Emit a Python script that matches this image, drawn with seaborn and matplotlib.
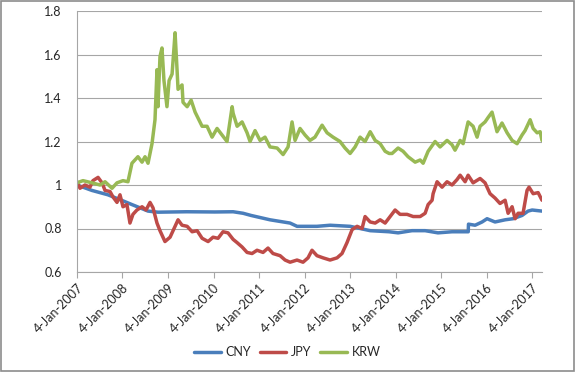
import matplotlib
matplotlib.use("Agg")
import matplotlib.pyplot as plt
from matplotlib.ticker import FuncFormatter
import pandas as pd
import seaborn as sns

# ---------------- data ----------------
cny_dates = ["2007-01-04", "2007-05-04", "2007-09-09", "2007-12-27", "2008-03-20",
             "2008-05-24", "2008-07-27", "2008-10-15", "2009-06-01", "2010-01-15",
             "2010-06-10", "2010-08-29", "2010-11-01", "2011-04-02", "2011-09-10",
             "2011-11-05", "2012-04-13", "2012-07-27", "2013-01-04", "2013-06-14",
             "2013-11-13", "2014-01-24", "2014-05-16", "2014-08-29", "2014-12-10",
             "2015-04-02", "2015-08-01", "2015-08-10", "2015-08-12", "2015-10-04",
             "2015-11-29", "2016-01-08", "2016-03-12", "2016-06-01", "2016-08-04",
             "2016-10-15", "2016-12-02", "2017-01-04", "2017-03-24"]
cny_vals = [1.00, 0.975, 0.955, 0.93, 0.91,
            0.895, 0.88, 0.875, 0.877, 0.876,
            0.877, 0.87, 0.86, 0.84, 0.825,
            0.81, 0.81, 0.815, 0.81, 0.79,
            0.785, 0.78, 0.79, 0.79, 0.78,
            0.785, 0.785, 0.785, 0.82, 0.815,
            0.83, 0.845, 0.83, 0.84, 0.845,
            0.86, 0.88, 0.885, 0.88]

jpy_dates = ["2007-01-04", "2007-01-28", "2007-03-09", "2007-04-18", "2007-05-12",
             "2007-06-22", "2007-07-24", "2007-08-17", "2007-09-26", "2007-10-20",
             "2007-11-21", "2007-12-15", "2008-01-08", "2008-02-09", "2008-03-04",
             "2008-03-28", "2008-04-29", "2008-06-09", "2008-07-11", "2008-08-12",
             "2008-09-05", "2008-10-07", "2008-10-31", "2008-12-10", "2009-01-20",
             "2009-03-01", "2009-03-25", "2009-04-26", "2009-06-06", "2009-07-16",
             "2009-08-25", "2009-10-04", "2009-11-21", "2009-12-31", "2010-02-09",
             "2010-03-21", "2010-04-30", "2010-06-10", "2010-07-12", "2010-08-21",
             "2010-09-30", "2010-11-09", "2010-12-19", "2011-02-05", "2011-03-17",
             "2011-04-26", "2011-06-22", "2011-08-01", "2011-09-10", "2011-11-05",
             "2011-12-23", "2012-02-01", "2012-03-04", "2012-04-13", "2012-06-01",
             "2012-07-27", "2012-09-21", "2012-10-31", "2012-12-10", "2013-01-20",
             "2013-03-01", "2013-04-10", "2013-05-04", "2013-06-14", "2013-07-24",
             "2013-09-02", "2013-10-12", "2013-11-21", "2013-12-31", "2014-02-09",
             "2014-04-06", "2014-05-25", "2014-07-20", "2014-08-29", "2014-09-22",
             "2014-10-24", "2014-11-01", "2014-12-03", "2015-01-12", "2015-02-21",
             "2015-04-02", "2015-05-12", "2015-06-06", "2015-07-16", "2015-08-09",
             "2015-09-18", "2015-11-13", "2015-12-23", "2016-02-01", "2016-03-12",
             "2016-04-21", "2016-06-01", "2016-06-25", "2016-07-27", "2016-08-20",
             "2016-09-13", "2016-10-23", "2016-11-24", "2016-12-10", "2017-01-12",
             "2017-02-21", "2017-03-24"]
jpy_vals = [1.015, 0.985, 1.00, 0.99, 1.02,
            1.035, 1.01, 0.975, 0.97, 0.945,
            0.92, 0.955, 0.90, 0.91, 0.825,
            0.865, 0.885, 0.90, 0.885, 0.92,
            0.895, 0.825, 0.79, 0.74, 0.76,
            0.81, 0.84, 0.815, 0.81, 0.785,
            0.79, 0.755, 0.74, 0.76, 0.755,
            0.785, 0.78, 0.75, 0.735, 0.715,
            0.69, 0.685, 0.70, 0.69, 0.71,
            0.685, 0.675, 0.655, 0.645, 0.655,
            0.645, 0.665, 0.70, 0.675, 0.665,
            0.655, 0.665, 0.685, 0.735, 0.795,
            0.81, 0.80, 0.855, 0.83, 0.825,
            0.84, 0.825, 0.855, 0.885, 0.865,
            0.865, 0.855, 0.855, 0.87, 0.91,
            0.93, 0.96, 1.015, 0.99, 1.015,
            1.00, 1.025, 1.045, 1.015, 1.045,
            1.01, 1.03, 1.01, 0.96, 0.94,
            0.915, 0.93, 0.87, 0.90, 0.845,
            0.87, 0.87, 0.975, 0.99, 0.96,
            0.965, 0.93]

krw_dates = ["2007-01-04", "2007-02-21", "2007-05-04", "2007-07-08", "2007-08-17",
             "2007-10-12", "2007-11-21", "2008-01-08", "2008-02-17", "2008-03-20",
             "2008-05-07", "2008-06-09", "2008-07-03", "2008-07-27", "2008-08-28",
             "2008-09-21", "2008-10-07", "2008-10-15", "2008-10-31", "2008-11-16",
             "2008-12-02", "2008-12-26", "2009-01-12", "2009-02-05", "2009-02-21",
             "2009-03-01", "2009-03-17", "2009-03-25", "2009-04-26", "2009-05-04",
             "2009-06-06", "2009-07-08", "2009-08-09", "2009-10-04", "2009-11-13",
             "2009-12-23", "2010-02-01", "2010-03-13", "2010-04-22", "2010-06-02",
             "2010-06-10", "2010-07-12", "2010-08-21", "2010-09-30", "2010-10-24",
             "2010-12-03", "2011-01-12", "2011-02-21", "2011-04-02", "2011-05-29",
             "2011-07-16", "2011-08-25", "2011-09-26", "2011-10-20", "2011-11-29",
             "2012-01-08", "2012-02-17", "2012-03-28", "2012-05-24", "2012-07-03",
             "2012-08-20", "2012-10-15", "2012-11-24", "2013-01-04", "2013-02-13",
             "2013-03-25", "2013-05-04", "2013-06-14", "2013-07-24", "2013-09-02",
             "2013-10-12", "2013-11-13", "2013-12-07", "2014-01-24", "2014-03-05",
             "2014-04-14", "2014-06-10", "2014-07-20", "2014-08-13", "2014-09-22",
             "2014-11-17", "2014-12-27", "2015-02-21", "2015-04-02", "2015-04-26",
             "2015-06-06", "2015-06-30", "2015-08-09", "2015-09-18", "2015-10-20",
             "2015-11-13", "2015-12-23", "2016-01-16", "2016-02-17", "2016-03-28",
             "2016-05-07", "2016-06-17", "2016-07-27", "2016-09-05", "2016-10-15",
             "2016-11-08", "2016-12-19", "2017-01-12", "2017-02-13", "2017-03-09",
             "2017-03-24"]
krw_vals = [1.01, 1.02, 1.01, 1.00, 1.015,
            0.985, 1.01, 1.02, 1.015, 1.10,
            1.13, 1.105, 1.13, 1.10, 1.19,
            1.30, 1.53, 1.36, 1.59, 1.63,
            1.48, 1.36, 1.48, 1.51, 1.635,
            1.70, 1.53, 1.44, 1.46, 1.38,
            1.36, 1.39, 1.335, 1.27, 1.27,
            1.22, 1.26, 1.23, 1.20, 1.36,
            1.33, 1.27, 1.29, 1.24, 1.20,
            1.25, 1.205, 1.22, 1.175, 1.17,
            1.14, 1.175, 1.29, 1.205, 1.26,
            1.23, 1.205, 1.22, 1.275, 1.24,
            1.22, 1.20, 1.17, 1.145, 1.175,
            1.22, 1.20, 1.245, 1.205, 1.19,
            1.155, 1.145, 1.145, 1.17, 1.155,
            1.13, 1.105, 1.115, 1.10, 1.155,
            1.20, 1.175, 1.205, 1.185, 1.16,
            1.205, 1.19, 1.29, 1.27, 1.22,
            1.27, 1.29, 1.31, 1.335, 1.245,
            1.285, 1.24, 1.205, 1.19, 1.23,
            1.25, 1.30, 1.26, 1.24, 1.245,
            1.205]

series_names = ["CNY", "JPY", "KRW"]
series_colors = ["#4A7EBB", "#BE4B48", "#98B954"]
tick_dates = ["2007-01-04", "2008-01-04", "2009-01-04", "2010-01-04", "2011-01-04",
              "2012-01-04", "2013-01-04", "2014-01-04", "2015-01-04", "2016-01-04",
              "2017-01-04"]
tick_labels = ["4-Jan-2007", "4-Jan-2008", "4-Jan-2009", "4-Jan-2010", "4-Jan-2011",
               "4-Jan-2012", "4-Jan-2013", "4-Jan-2014", "4-Jan-2015", "4-Jan-2016",
               "4-Jan-2017"]
y_ticks = [0.6, 0.8, 1.0, 1.2, 1.4, 1.6, 1.8]

# ---------------- build table ----------------
frames = []
for name, d, v in zip(series_names, [cny_dates, jpy_dates, krw_dates],
                      [cny_vals, jpy_vals, krw_vals]):
    frames.append(pd.DataFrame({"date": pd.to_datetime(d), "value": v, "ccy": name}))
df = pd.concat(frames, ignore_index=True)

# ---------------- figure ----------------
sns.set_style("white")
plt.rcParams["font.family"] = ["Lato", "DejaVu Sans"]

fig = plt.figure(figsize=(5.75, 3.72), dpi=100)
fig.patch.set_facecolor("white")
ax = fig.add_axes([77 / 575, 1 - 272 / 372, (542 - 77) / 575, (272 - 11) / 372])

sns.lineplot(data=df, x="date", y="value", hue="ccy", hue_order=series_names,
             palette=dict(zip(series_names, series_colors)), linewidth=2.5,
             estimator=None, ax=ax, legend=True)

ax.set_ylim(0.6, 1.8)
ax.set_yticks(y_ticks)
ax.yaxis.set_major_formatter(FuncFormatter(lambda v, p: f"{v:g}"))
ax.set_xlim(pd.Timestamp("2007-01-04"), pd.Timestamp("2017-03-24"))
ax.set_xticks(pd.to_datetime(tick_dates))
ax.set_xticklabels(tick_labels, rotation=45, ha="right", va="top",
                   rotation_mode="anchor")
ax.set_xlabel("")
ax.set_ylabel("")

ax.grid(axis="y", color="#a6a6a6", linewidth=0.8)
ax.grid(axis="x", visible=False)
ax.set_axisbelow(True)
for side in ["top", "right"]:
    ax.spines[side].set_visible(False)
for side in ["left", "bottom"]:
    ax.spines[side].set_color("#a6a6a6")
    ax.spines[side].set_linewidth(0.8)
ax.tick_params(axis="both", which="major", direction="out", length=4, width=0.8,
               color="#a6a6a6", labelsize=9, labelcolor="#262626", pad=3)
ax.tick_params(axis="y", pad=7)
ax.tick_params(axis="x", bottom=True, pad=3)

handles, labels = ax.get_legend_handles_labels()
ax.legend_.remove()
fig.legend(handles, labels, loc="center", bbox_to_anchor=(0.5, 1 - 352 / 372),
           ncol=3, frameon=False, fontsize=9, handlelength=2.1,
           handletextpad=0.4, columnspacing=0.7, labelcolor="#262626")

# chart border
fig.add_artist(plt.Rectangle((0.001, 0.002), 0.997, 0.995, transform=fig.transFigure,
                             fill=False, edgecolor="#8c8c8c", linewidth=1.2))

fig.savefig("out.png", dpi=100, facecolor="white")
